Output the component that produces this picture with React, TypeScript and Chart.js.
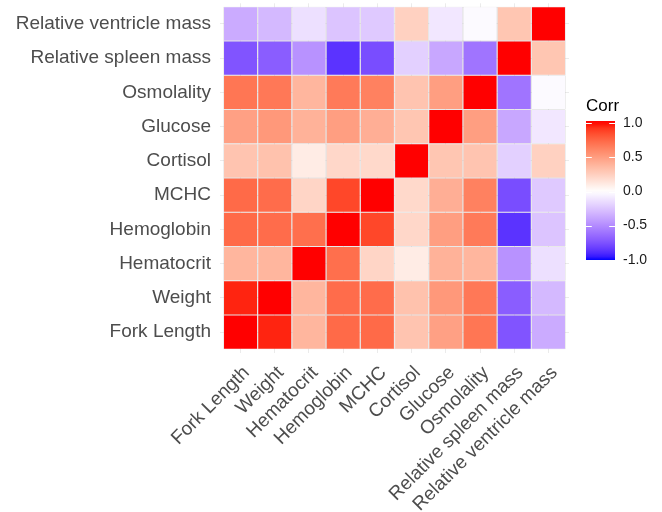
import React, { useEffect, useRef } from "react";
import { Chart, registerables } from "chart.js";

Chart.register(...registerables);

const variables = [
  "Fork Length",
  "Weight",
  "Hematocrit",
  "Hemoglobin",
  "MCHC",
  "Cortisol",
  "Glucose",
  "Osmolality",
  "Relative spleen mass",
  "Relative ventricle mass",
];

// correlation rows, same order as variables
const forkLength = [1, 0.96, 0.38, 0.74, 0.74, 0.31, 0.49, 0.69, -0.74, -0.36];
const weight = [0.96, 1, 0.38, 0.73, 0.73, 0.32, 0.53, 0.68, -0.7, -0.3];
const hematocrit = [0.38, 0.38, 1, 0.72, 0.22, 0.1, 0.4, 0.38, -0.47, -0.13];
const hemoglobin = [0.74, 0.73, 0.72, 1, 0.87, 0.21, 0.5, 0.67, -0.87, -0.25];
const mchc = [0.74, 0.73, 0.22, 0.87, 1, 0.2, 0.42, 0.64, -0.77, -0.23];
const cortisol = [0.31, 0.32, 0.1, 0.21, 0.2, 1, 0.3, 0.31, -0.2, 0.24];
const glucose = [0.49, 0.53, 0.4, 0.5, 0.42, 0.3, 1, 0.5, -0.38, -0.1];
const osmolality = [0.69, 0.68, 0.38, 0.67, 0.64, 0.31, 0.5, 1, -0.6, -0.02];
const spleenMass = [-0.74, -0.7, -0.47, -0.87, -0.77, -0.2, -0.38, -0.6, 1, 0.3];
const ventricleMass = [-0.36, -0.3, -0.13, -0.25, -0.23, 0.24, -0.1, -0.02, 0.3, 1];

const corrRows = [
  forkLength,
  weight,
  hematocrit,
  hemoglobin,
  mchc,
  cortisol,
  glucose,
  osmolality,
  spleenMass,
  ventricleMass,
];

const legendTitle = "Corr";
const legendTickValues = [1, 0.5, 0, -0.5, -1];
const legendTickLabels = ["1.0", "0.5", "0.0", "-0.5", "-1.0"];

// ---- Lab colour interpolation (like scales::div_gradient_pal) ----
function toLin(c: number) {
  c /= 255;
  return c <= 0.04045 ? c / 12.92 : Math.pow((c + 0.055) / 1.055, 2.4);
}
function fromLin(c: number) {
  const v = c <= 0.0031308 ? 12.92 * c : 1.055 * Math.pow(c, 1 / 2.4) - 0.055;
  return Math.round(Math.max(0, Math.min(1, v)) * 255);
}
const Xn = 0.95047, Yn = 1, Zn = 1.08883;
function f(t: number) {
  return t > 0.008856 ? Math.cbrt(t) : 7.787 * t + 16 / 116;
}
function finv(t: number) {
  const t3 = t * t * t;
  return t3 > 0.008856 ? t3 : (t - 16 / 116) / 7.787;
}
function rgbToLab(rgb: number[]) {
  const R = toLin(rgb[0]), G = toLin(rgb[1]), B = toLin(rgb[2]);
  const X = 0.4124 * R + 0.3576 * G + 0.1805 * B;
  const Y = 0.2126 * R + 0.7152 * G + 0.0722 * B;
  const Z = 0.0193 * R + 0.1192 * G + 0.9505 * B;
  const fx = f(X / Xn), fy = f(Y / Yn), fz = f(Z / Zn);
  return [116 * fy - 16, 500 * (fx - fy), 200 * (fy - fz)];
}
function labToRgb(lab: number[]) {
  const fy = (lab[0] + 16) / 116;
  const fx = fy + lab[1] / 500;
  const fz = fy - lab[2] / 200;
  const X = Xn * finv(fx), Y = Yn * finv(fy), Z = Zn * finv(fz);
  const R = 3.2406 * X - 1.5372 * Y - 0.4986 * Z;
  const G = -0.9689 * X + 1.8758 * Y + 0.0415 * Z;
  const B = 0.0557 * X - 0.204 * Y + 1.057 * Z;
  return [fromLin(R), fromLin(G), fromLin(B)];
}
const LOW = rgbToLab([0, 0, 255]);
const MID = rgbToLab([255, 255, 255]);
const HIGH = rgbToLab([255, 0, 0]);
function corrColor(v: number) {
  const t = Math.max(-1, Math.min(1, v));
  const target = t >= 0 ? HIGH : LOW;
  const a = Math.abs(t);
  const lab = [0, 1, 2].map((i) => MID[i] + (target[i] - MID[i]) * a);
  const rgb = labToRgb(lab);
  return `rgb(${rgb[0]},${rgb[1]},${rgb[2]})`;
}

const FONT = "'Liberation Sans', Arial, sans-serif";
const AXIS_TEXT = "#4D4D4D";

const legendPlugin = {
  id: "corrLegend",
  afterDraw(chart: any) {
    const ctx = chart.ctx as CanvasRenderingContext2D;
    const barX = 586, barW = 29, barTop = 121, barBottom = 260;
    const center = 191.5, half = 68.2;
    const yOf = (v: number) => center - v * half;
    ctx.save();
    ctx.fillStyle = "#000";
    ctx.font = `17px ${FONT}`;
    ctx.textAlign = "left";
    ctx.textBaseline = "alphabetic";
    ctx.fillText(legendTitle, 586, 110.5);
    const grad = ctx.createLinearGradient(0, barTop, 0, barBottom);
    for (let i = 0; i <= 40; i++) {
      const y = barTop + ((barBottom - barTop) * i) / 40;
      const v = (center - y) / half;
      grad.addColorStop(i / 40, corrColor(v));
    }
    ctx.fillStyle = grad;
    ctx.fillRect(barX, barTop, barW, barBottom - barTop);
    ctx.strokeStyle = "#ffffff";
    ctx.lineWidth = 1;
    const tl = barW / 5;
    legendTickValues.forEach((v) => {
      const y = Math.round(yOf(v)) + 0.5;
      ctx.beginPath();
      ctx.moveTo(barX, y);
      ctx.lineTo(barX + tl, y);
      ctx.moveTo(barX + barW - tl, y);
      ctx.lineTo(barX + barW, y);
      ctx.stroke();
    });
    ctx.fillStyle = "#1a1a1a";
    ctx.font = `14px ${FONT}`;
    ctx.textBaseline = "middle";
    legendTickValues.forEach((v, i) => {
      ctx.fillText(legendTickLabels[i], 623, yOf(v));
    });
    ctx.restore();
  },
};

function zeroPad(scale: any) {
  scale.paddingLeft = 0;
  scale.paddingRight = 0;
  scale.paddingTop = 0;
  scale.paddingBottom = 0;
}

export default function App() {
  const ref = useRef<HTMLCanvasElement | null>(null);

  useEffect(() => {
    document.body.style.margin = "0";
    if (!ref.current) return;
    const datasets = corrRows.map((row, r) => ({
      label: variables[r],
      data: variables.map((_, c) => ({ x: c + 0.5, y: [r, r + 1] })),
      backgroundColor: row.map((v) => corrColor(v)),
      borderColor: "rgba(185,185,185,0.7)",
      borderWidth: 0.6,
      borderSkipped: false,
      inflateAmount: 0,
      grouped: false,
      barPercentage: 1,
      categoryPercentage: 1,
    }));
    const tickPositions = variables.map((_, i) => i + 0.5);
    const chart = new Chart(ref.current, {
      type: "bar",
      data: { datasets: datasets as any },
      plugins: [legendPlugin],
      options: {
        responsive: false,
        animation: false,
        events: [],
        layout: { padding: { top: 3.3, right: 93, left: 0, bottom: 0 } },
        plugins: { legend: { display: false }, tooltip: { enabled: false } },
        scales: {
          x: {
            type: "linear",
            offset: false,
            min: -0.1,
            max: 10.1,
            afterBuildTicks: (scale: any) => {
              scale.ticks = tickPositions.map((v) => ({ value: v }));
            },
            afterFit: (scale: any) => {
              scale.height = 159.3;
              zeroPad(scale);
            },
            border: { display: false },
            grid: { color: "#EBEBEB", lineWidth: 1, drawTicks: false, offset: false },
            ticks: {
              autoSkip: false,
              minRotation: 45,
              maxRotation: 45,
              padding: 9,
              labelOffset: 6,
              color: AXIS_TEXT,
              font: { family: FONT, size: 19 },
              callback: (_v: any, i: number) => variables[i],
            },
          },
          y: {
            type: "linear",
            offset: false,
            min: -0.1,
            max: 10.1,
            afterBuildTicks: (scale: any) => {
              scale.ticks = tickPositions.map((v) => ({ value: v }));
            },
            afterFit: (scale: any) => {
              scale.width = 220;
              zeroPad(scale);
            },
            border: { display: false },
            grid: { color: "#EBEBEB", lineWidth: 1, drawTicks: false, offset: false },
            ticks: {
              autoSkip: false,
              padding: 9,
              color: AXIS_TEXT,
              font: { family: FONT, size: 19 },
              callback: (_v: any, i: number) => variables[i],
            },
          },
        },
      },
    });
    return () => chart.destroy();
  }, []);

  return (
    <div style={{ width: 662, height: 512 }}>
      <canvas ref={ref} width={662} height={512} style={{ display: "block" }} />
    </div>
  );
}
